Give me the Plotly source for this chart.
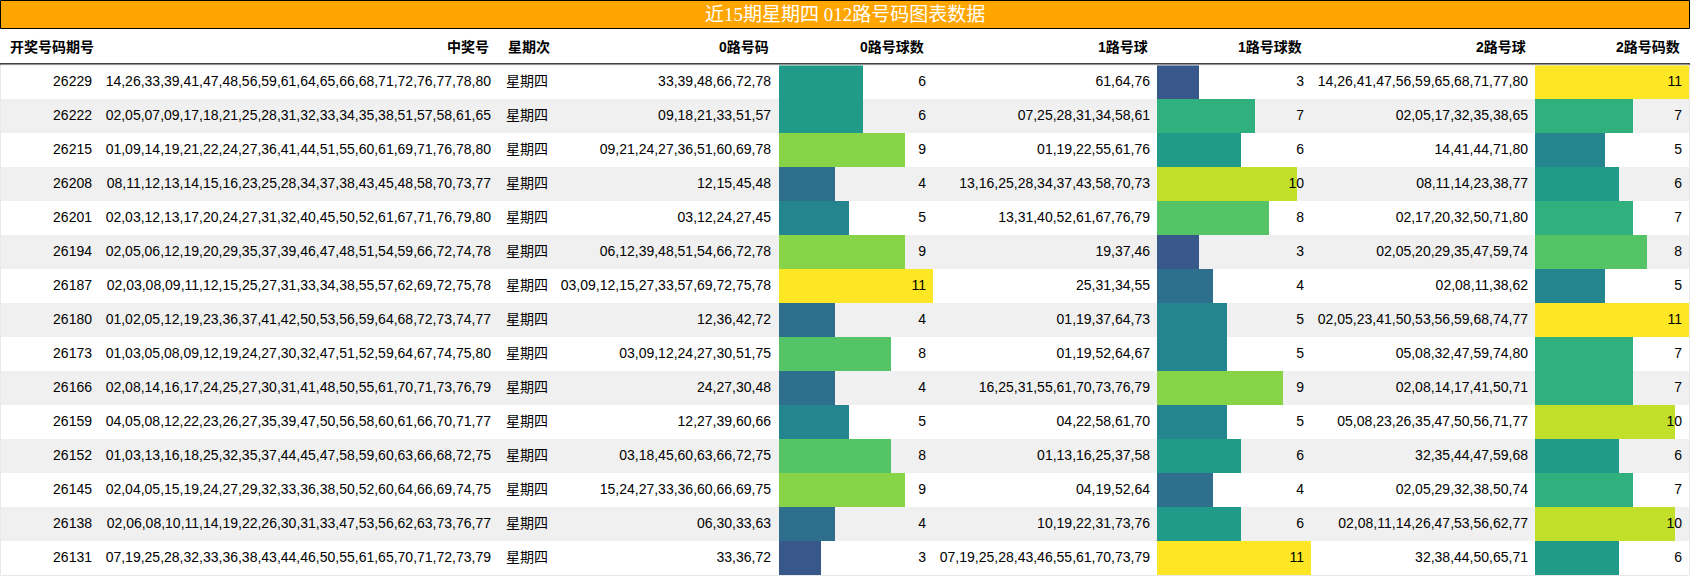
import plotly.graph_objects as go

# ---- data ----
title = "近15期星期四 012路号码图表数据"
headers = ["开奖号码期号", "中奖号", "星期次", "0路号码", "0路号球数",
           "1路号球", "1路号球数", "2路号球", "2路号码数"]

periods = ["26229", "26222", "26215", "26208", "26201", "26194", "26187", "26180",
           "26173", "26166", "26159", "26152", "26145", "26138", "26131"]

winning = [
    "14,26,33,39,41,47,48,56,59,61,64,65,66,68,71,72,76,77,78,80",
    "02,05,07,09,17,18,21,25,28,31,32,33,34,35,38,51,57,58,61,65",
    "01,09,14,19,21,22,24,27,36,41,44,51,55,60,61,69,71,76,78,80",
    "08,11,12,13,14,15,16,23,25,28,34,37,38,43,45,48,58,70,73,77",
    "02,03,12,13,17,20,24,27,31,32,40,45,50,52,61,67,71,76,79,80",
    "02,05,06,12,19,20,29,35,37,39,46,47,48,51,54,59,66,72,74,78",
    "02,03,08,09,11,12,15,25,27,31,33,34,38,55,57,62,69,72,75,78",
    "01,02,05,12,19,23,36,37,41,42,50,53,56,59,64,68,72,73,74,77",
    "01,03,05,08,09,12,19,24,27,30,32,47,51,52,59,64,67,74,75,80",
    "02,08,14,16,17,24,25,27,30,31,41,48,50,55,61,70,71,73,76,79",
    "04,05,08,12,22,23,26,27,35,39,47,50,56,58,60,61,66,70,71,77",
    "01,03,13,16,18,25,32,35,37,44,45,47,58,59,60,63,66,68,72,75",
    "02,04,05,15,19,24,27,29,32,33,36,38,50,52,60,64,66,69,74,75",
    "02,06,08,10,11,14,19,22,26,30,31,33,47,53,56,62,63,73,76,77",
    "07,19,25,28,32,33,36,38,43,44,46,50,55,61,65,70,71,72,73,79",
]

weekday = ["星期四"] * 15

road0 = ["33,39,48,66,72,78", "09,18,21,33,51,57", "09,21,24,27,36,51,60,69,78",
         "12,15,45,48", "03,12,24,27,45", "06,12,39,48,51,54,66,72,78",
         "03,09,12,15,27,33,57,69,72,75,78", "12,36,42,72", "03,09,12,24,27,30,51,75",
         "24,27,30,48", "12,27,39,60,66", "03,18,45,60,63,66,72,75",
         "15,24,27,33,36,60,66,69,75", "06,30,33,63", "33,36,72"]
road0_count = [6, 6, 9, 4, 5, 9, 11, 4, 8, 4, 5, 8, 9, 4, 3]

road1 = ["61,64,76", "07,25,28,31,34,58,61", "01,19,22,55,61,76",
         "13,16,25,28,34,37,43,58,70,73", "13,31,40,52,61,67,76,79", "19,37,46",
         "25,31,34,55", "01,19,37,64,73", "01,19,52,64,67",
         "16,25,31,55,61,70,73,76,79", "04,22,58,61,70", "01,13,16,25,37,58",
         "04,19,52,64", "10,19,22,31,73,76", "07,19,25,28,43,46,55,61,70,73,79"]
road1_count = [3, 7, 6, 10, 8, 3, 4, 5, 5, 9, 5, 6, 4, 6, 11]

road2 = ["14,26,41,47,56,59,65,68,71,77,80", "02,05,17,32,35,38,65", "14,41,44,71,80",
         "08,11,14,23,38,77", "02,17,20,32,50,71,80", "02,05,20,29,35,47,59,74",
         "02,08,11,38,62", "02,05,23,41,50,53,56,59,68,74,77", "05,08,32,47,59,74,80",
         "02,08,14,17,41,50,71", "05,08,23,26,35,47,50,56,71,77", "32,35,44,47,59,68",
         "02,05,29,32,38,50,74", "02,08,11,14,26,47,53,56,62,77", "32,38,44,50,65,71"]
road2_count = [11, 7, 5, 6, 7, 8, 5, 11, 7, 7, 10, 6, 7, 10, 6]

# ---- layout (pixels) ----
W, H = 1690, 576
FONT = "Liberation Sans, Arial, Noto Sans CJK SC"
n = len(periods)
cmax = max(road0_count + road1_count + road2_count)


def py(px):
    return 1 - px / H


fig = go.Figure()

# alternating row stripes
stripe = ["#ffffff" if i % 2 == 0 else "#f0f0f0" for i in range(n)]
fig.add_trace(go.Bar(x=[1] * n, y=periods, orientation="h", width=1,
                     marker=dict(color=stripe, line_width=0),
                     xaxis="x", yaxis="y", hoverinfo="skip", showlegend=False))

# data bars
bar_cols = [(road0_count, 779, 933, "x2"),
            (road1_count, 1157, 1311, "x3"),
            (road2_count, 1535, 1689, "x4")]
for counts, x0, x1, ax in bar_cols:
    fig.add_trace(go.Bar(x=counts, y=periods, orientation="h", width=1,
                         marker=dict(color=counts, colorscale="Viridis", cmin=0, cmax=cmax,
                                     line_width=0),
                         xaxis=ax, yaxis="y", hoverinfo="skip", showlegend=False))
    fig.update_layout(**{"xaxis" + ax[1:]: dict(domain=[x0 / W, x1 / W], range=[0, cmax],
                                                 visible=False, fixedrange=True)})

# cell text (x = column text edge in pixels)
text_cols = [(periods, 92, "middle left"),
             (winning, 491, "middle left"),
             (weekday, 506, "middle right"),
             (road0, 771, "middle left"),
             ([str(c) for c in road0_count], 926, "middle left"),
             (road1, 1150, "middle left"),
             ([str(c) for c in road1_count], 1304, "middle left"),
             (road2, 1528, "middle left"),
             ([str(c) for c in road2_count], 1682, "middle left")]
for vals, xpos, pos in text_cols:
    fig.add_trace(go.Scatter(x=[xpos] * n, y=periods, mode="text", text=vals,
                             textposition=pos, cliponaxis=False,
                             textfont=dict(size=14, color="#000000", family=FONT),
                             xaxis="x5", yaxis="y", hoverinfo="skip", showlegend=False))

# header labels
head_x = [8, 491, 506, 771, 926, 1150, 1304, 1528, 1682]
for label, xpos in zip(headers, head_x):
    anchor = "left" if label in ("开奖号码期号", "星期次") else "right"
    fig.add_annotation(x=xpos, y=py(47), xref="x5", yref="paper", text="<b>" + label + "</b>",
                       showarrow=False, xanchor=anchor, yanchor="middle",
                       font=dict(size=14, color="#000000", family=FONT))

# title bar
fig.add_shape(type="rect", xref="paper", yref="paper", x0=0.5 / W, x1=1 - 0.5 / W,
              y0=py(28.5), y1=py(0.5), fillcolor="#ffa500",
              line=dict(color="#000000", width=1), layer="above")
fig.add_annotation(x=0.5, y=py(15), xref="paper", yref="paper", text=title, showarrow=False,
                   xanchor="center", yanchor="middle",
                   font=dict(size=19, color="#ffffff",
                             family="Liberation Serif, Noto Sans CJK SC"))

# header underline
fig.add_shape(type="line", xref="paper", yref="paper", x0=0, x1=1, y0=py(64), y1=py(64),
              line=dict(color="#000000", width=1.5))

# faint border around the body rows
fig.add_shape(type="rect", xref="paper", yref="paper", x0=0.5 / W, x1=1 - 0.5 / W,
              y0=py(575.5), y1=py(65), line=dict(color="#e8e8e8", width=1),
              fillcolor="rgba(0,0,0,0)", layer="above")

fig.update_layout(
    width=W, height=H,
    margin=dict(l=0, r=0, t=0, b=0),
    paper_bgcolor="#ffffff", plot_bgcolor="rgba(0,0,0,0)",
    bargap=0, showlegend=False,
    xaxis=dict(domain=[0, 1], range=[0, 1], visible=False, fixedrange=True),
    xaxis5=dict(domain=[0, 1], range=[0, W], visible=False, fixedrange=True),
    yaxis=dict(domain=[py(575), py(65)], type="category", categoryarray=periods,
               range=[n - 0.5, -0.5], visible=False, fixedrange=True),
)

# page body has an 8px default margin; drop it so the table sits at the window edge
fig.write_html("out.html", config={"displayModeBar": False},
               post_script="document.body.style.margin='0px';")
